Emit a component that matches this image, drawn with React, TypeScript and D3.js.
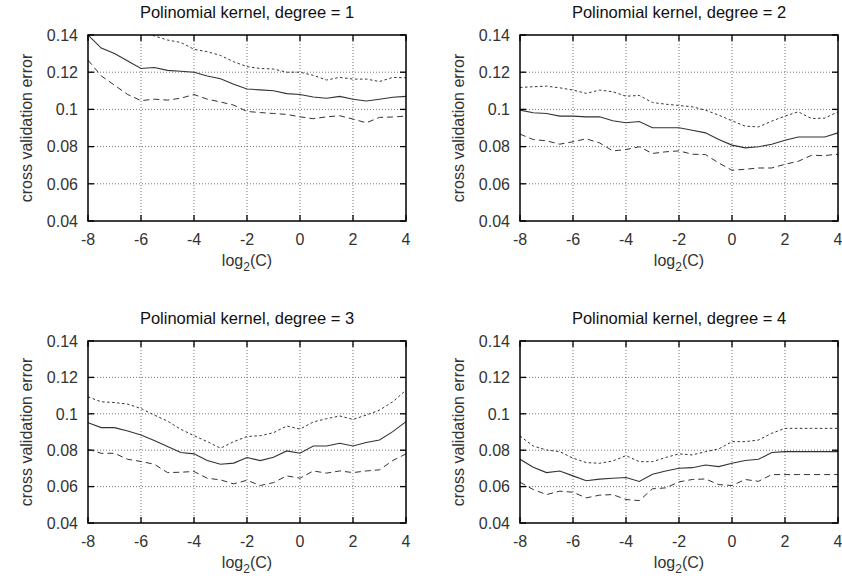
import React from "react";
import * as d3 from "d3";

const logC: number[] = d3.range(-8, 4.001, 0.5).map((v) => +v.toFixed(1));
const xTicks = [-8, -6, -4, -2, 0, 2, 4];
const yTicks = [0.04, 0.06, 0.08, 0.1, 0.12, 0.14];
const yTickLabels = ["0.04", "0.06", "0.08", "0.1", "0.12", "0.14"];
const titles = [
  "Polinomial kernel, degree = 1",
  "Polinomial kernel, degree = 2",
  "Polinomial kernel, degree = 3",
  "Polinomial kernel, degree = 4",
];

const mean1 = [0.14, 0.133, 0.13, 0.126, 0.122, 0.1225, 0.121, 0.1205, 0.12, 0.118, 0.1165, 0.1135, 0.111, 0.1105, 0.11, 0.1085, 0.108, 0.1067, 0.106, 0.107, 0.1055, 0.1045, 0.1055, 0.1065, 0.107];
const upper1 = [0.16, 0.155, 0.152, 0.148, 0.143, 0.1395, 0.1373, 0.136, 0.1323, 0.131, 0.129, 0.1256, 0.123, 0.122, 0.1217, 0.12, 0.12, 0.1183, 0.1158, 0.1172, 0.1163, 0.1163, 0.115, 0.1172, 0.117];
const lower1 = [0.1265, 0.118, 0.113, 0.108, 0.1047, 0.1055, 0.105, 0.106, 0.108, 0.1055, 0.104, 0.1023, 0.0989, 0.0983, 0.0978, 0.0973, 0.096, 0.095, 0.096, 0.0966, 0.0948, 0.0928, 0.0957, 0.0959, 0.0964];

const mean2 = [0.0996, 0.0982, 0.0978, 0.0964, 0.0964, 0.096, 0.096, 0.0939, 0.0928, 0.0935, 0.0901, 0.0901, 0.0901, 0.0888, 0.0874, 0.0838, 0.0808, 0.0793, 0.0799, 0.0813, 0.0834, 0.0852, 0.0852, 0.0852, 0.0874];
const upper2 = [0.1118, 0.1122, 0.1125, 0.1116, 0.1104, 0.1086, 0.1104, 0.1095, 0.1071, 0.1075, 0.1037, 0.1028, 0.1021, 0.1014, 0.0996, 0.0969, 0.0939, 0.091, 0.0906, 0.0937, 0.0964, 0.0987, 0.0951, 0.0953, 0.0987];
const lower2 = [0.0867, 0.0838, 0.0831, 0.0813, 0.0826, 0.0842, 0.082, 0.0777, 0.0784, 0.0799, 0.0763, 0.0772, 0.0777, 0.0759, 0.0757, 0.0712, 0.0673, 0.0678, 0.0685, 0.0685, 0.0705, 0.0721, 0.0753, 0.0752, 0.0759];

const mean3 = [0.0951, 0.0924, 0.0924, 0.0905, 0.0884, 0.0853, 0.082, 0.0787, 0.078, 0.0743, 0.0723, 0.0729, 0.076, 0.0743, 0.0761, 0.0796, 0.0783, 0.0823, 0.0823, 0.0838, 0.0823, 0.0842, 0.0856, 0.0902, 0.0957];
const upper3 = [0.1093, 0.1066, 0.1062, 0.1053, 0.1029, 0.0993, 0.096, 0.0915, 0.088, 0.0847, 0.0811, 0.0847, 0.0875, 0.088, 0.0896, 0.0933, 0.0916, 0.0955, 0.0973, 0.0988, 0.0969, 0.0993, 0.102, 0.1066, 0.113];
const lower3 = [0.0805, 0.0783, 0.0783, 0.075, 0.0738, 0.0723, 0.0677, 0.0679, 0.0683, 0.0646, 0.0637, 0.0615, 0.0635, 0.0606, 0.0622, 0.0659, 0.0646, 0.0686, 0.0674, 0.0686, 0.0677, 0.0686, 0.0692, 0.0743, 0.078];

const mean4 = [0.075, 0.0706, 0.0677, 0.0686, 0.0659, 0.0632, 0.0641, 0.0646, 0.065, 0.0628, 0.0668, 0.0686, 0.0701, 0.0704, 0.0719, 0.071, 0.0728, 0.0743, 0.075, 0.0787, 0.0792, 0.0792, 0.0792, 0.0792, 0.0792];
const upper4 = [0.0878, 0.0823, 0.0801, 0.0792, 0.0756, 0.0732, 0.0728, 0.0741, 0.077, 0.0737, 0.0737, 0.076, 0.078, 0.0774, 0.0792, 0.0807, 0.0847, 0.0847, 0.0856, 0.0893, 0.092, 0.092, 0.092, 0.092, 0.092];
const lower4 = [0.0624, 0.0584, 0.0556, 0.0575, 0.0569, 0.0538, 0.0553, 0.0556, 0.0529, 0.0523, 0.0588, 0.0593, 0.0626, 0.0639, 0.0642, 0.0611, 0.0606, 0.0639, 0.0629, 0.0666, 0.0666, 0.0666, 0.0666, 0.0666, 0.0666];

const means = [mean1, mean2, mean3, mean4];
const uppers = [upper1, upper2, upper3, upper4];
const lowers = [lower1, lower2, lower3, lower4];

const FONT = "'Liberation Sans', Arial, Helvetica, sans-serif";
const TEXT = "#333";
const LINE = "#333";

type Box = { l: number; r: number; t: number; b: number };
const boxes: Box[] = [
  { l: 88, r: 406, t: 35, b: 221 },
  { l: 520, r: 838, t: 35, b: 221 },
  { l: 88, r: 406, t: 341, b: 523 },
  { l: 520, r: 838, t: 341, b: 523 },
];

function Panel({ i }: { i: number }) {
  const bx = boxes[i];
  const x = d3.scaleLinear().domain([-8, 4]).range([bx.l, bx.r]);
  const y = d3.scaleLinear().domain([0.04, 0.14]).range([bx.b, bx.t]);
  const line = d3
    .line<number>()
    .x((_, k) => x(logC[k]))
    .y((d) => y(d));
  const clipId = `clip${i}`;
  const cx = (bx.l + bx.r) / 2;
  const cy = (bx.t + bx.b) / 2;
  const tick = 6;
  return (
    <g>
      <defs>
        <clipPath id={clipId}>
          <rect x={bx.l} y={bx.t} width={bx.r - bx.l} height={bx.b - bx.t} />
        </clipPath>
      </defs>
      {xTicks.slice(1, -1).map((t) => (
        <line key={"gx" + t} x1={x(t)} x2={x(t)} y1={bx.t} y2={bx.b} stroke="#777" strokeWidth={1} strokeDasharray="1,2" />
      ))}
      {yTicks.slice(1, -1).map((t) => (
        <line key={"gy" + t} x1={bx.l} x2={bx.r} y1={y(t)} y2={y(t)} stroke="#777" strokeWidth={1} strokeDasharray="1,2" />
      ))}
      {xTicks.map((t) => (
        <g key={"tx" + t}>
          <line x1={x(t)} x2={x(t)} y1={bx.b} y2={bx.b - tick} stroke="#000" strokeWidth={1.3} />
          <line x1={x(t)} x2={x(t)} y1={bx.t} y2={bx.t + tick} stroke="#000" strokeWidth={1.3} />
          <text x={x(t)} y={bx.b + 24} textAnchor="middle" fontFamily={FONT} fontSize={16} fill={TEXT}>
            {t}
          </text>
        </g>
      ))}
      {yTicks.map((t, k) => (
        <g key={"ty" + t}>
          <line x1={bx.l} x2={bx.l + tick} y1={y(t)} y2={y(t)} stroke="#000" strokeWidth={1.3} />
          <line x1={bx.r} x2={bx.r - tick} y1={y(t)} y2={y(t)} stroke="#000" strokeWidth={1.3} />
          <text x={bx.l - 10} y={y(t)} dy="0.36em" textAnchor="end" fontFamily={FONT} fontSize={16} fill={TEXT}>
            {yTickLabels[k]}
          </text>
        </g>
      ))}
      <g clipPath={`url(#${clipId})`} fill="none" stroke={LINE}>
        <path d={line(uppers[i]) || ""} strokeWidth={1} strokeDasharray="2.5,2.5" />
        <path d={line(lowers[i]) || ""} strokeWidth={1} strokeDasharray="6,4" />
        <path d={line(means[i]) || ""} strokeWidth={1.1} />
      </g>
      <rect x={bx.l} y={bx.t} width={bx.r - bx.l} height={bx.b - bx.t} fill="none" stroke="#000" strokeWidth={1.5} />
      <text x={cx} y={bx.t - 17} textAnchor="middle" fontFamily={FONT} fontSize={16.5} fill="#111">
        {titles[i]}
      </text>
      <text x={cx} y={bx.b + 45} textAnchor="middle" fontFamily={FONT} fontSize={16} fill={TEXT}>
        log
        <tspan fontSize={12} dy={5}>2</tspan>
        <tspan dy={-5}>(C)</tspan>
      </text>
      <text
        transform={`translate(${bx.l - 56},${cy}) rotate(-90)`}
        textAnchor="middle"
        fontFamily={FONT}
        fontSize={16}
        fill={TEXT}
      >
        cross validation error
      </text>
    </g>
  );
}

export default function App() {
  return (
    <div style={{ position: "absolute", left: 0, top: 0 }}>
      <svg width={842} height={580} style={{ display: "block", background: "#fff" }}>
        {[0, 1, 2, 3].map((i) => (
          <Panel key={i} i={i} />
        ))}
      </svg>
    </div>
  );
}
